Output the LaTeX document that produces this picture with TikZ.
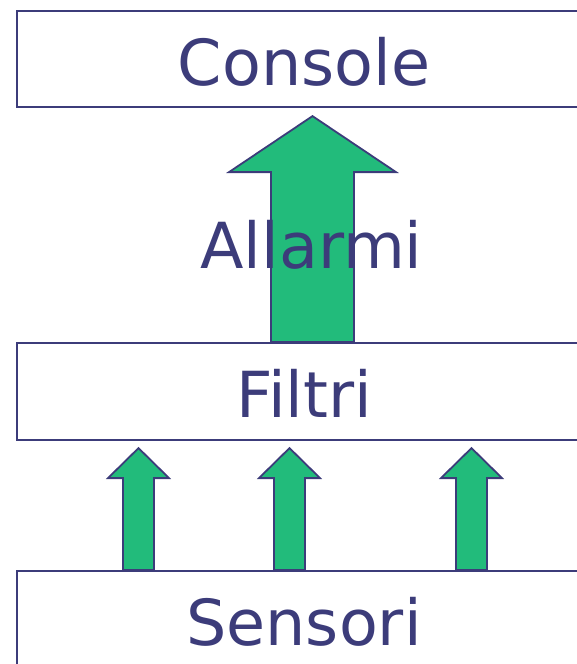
\documentclass[tikz,border=0pt]{standalone}
\usepackage{fontspec}
\setmainfont{DejaVu Sans}
\definecolor{inkblue}{RGB}{60,60,122}
\definecolor{arrowgreen}{RGB}{34,187,123}
\begin{document}
\begin{tikzpicture}[x=1pt, y=-1pt,
	layer/.style={draw=inkblue, line width=1.8pt, minimum width=574pt, inner sep=0pt,
		text=inkblue, font=\fontsize{63.5}{70}\selectfont, text height=52pt, text depth=0pt},
	blockarrow/.style={draw=inkblue, fill=arrowgreen, line width=1.8pt, line join=miter}]
	\useasboundingbox (0,0) rectangle (576,664);
	% I tre livelli
	\node[layer, minimum height=96pt] (console) at (304,59) {Console};
	\node[layer, minimum height=97pt] (filtri) at (304,391.5) {Filtri};
	\node[layer, minimum height=96pt] (sensori) at (304,619) {Sensori};
	% Freccia grande dai filtri alla console
	\draw[blockarrow] ([xshift=8.5pt]filtri.north) ++(-41.5,0) -- ++(0,-170) -- ++(-42,0)
		-- ++(83.5,-56) -- ++(83.5,56) -- ++(-42,0) -- ++(0,170) -- cycle;
	\node[text=inkblue, font=\fontsize{63.5}{70}\selectfont, anchor=base] (allarmi) at (311.5,268) {Allarmi};
	% Frecce piccole dai sensori ai filtri
	\foreach \dx in {-165.5, -14.5, 167.5} {
	\draw[blockarrow] ([xshift=\dx pt]sensori.north) ++(-15.5,0) -- ++(0,-92) -- ++(-15,0)
		-- ++(30.5,-30) -- ++(30.5,30) -- ++(-15,0) -- ++(0,92) -- cycle;
	}
\end{tikzpicture}
\end{document}
